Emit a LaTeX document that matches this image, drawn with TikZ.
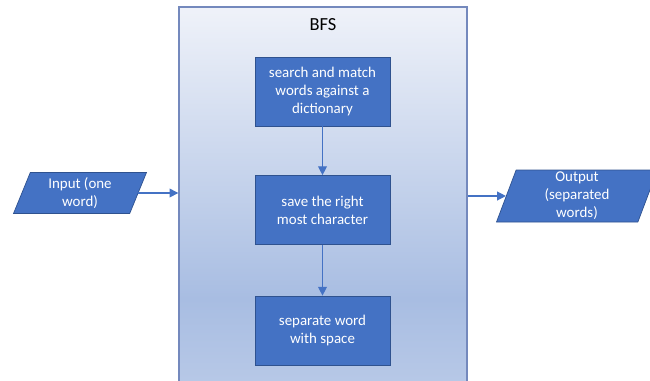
\documentclass[tikz,border=0pt]{standalone}
\usepackage{fontspec}
\setmainfont{Carlito}
\usetikzlibrary{shapes.geometric,arrows.meta}
\definecolor{boxblue}{HTML}{4472C4}
\definecolor{boxline}{HTML}{2F528F}
\definecolor{frameline}{HTML}{7489BD}
\definecolor{shadetop}{HTML}{EFF2F9}
\definecolor{shademid}{HTML}{A8BDE2}
\definecolor{shadebot}{HTML}{DCE4F3}
\begin{document}
\begin{tikzpicture}[x=0.02cm,y=-0.02cm,
    stepbox/.style={draw=boxline,fill=boxblue,text=white,align=center,
        minimum width=2.7cm,minimum height=1.38cm,inner sep=2pt,
        font=\fontsize{8.5}{10.2}\selectfont},
    iobox/.style={trapezium,trapezium left angle=64,trapezium right angle=116,
        trapezium stretches body,draw=boxline,fill=boxblue,text=white,align=center,
        inner sep=1pt,font=\fontsize{8.5}{10.2}\selectfont},
    link/.style={draw=boxblue,line width=0.7pt,-{Triangle[width=5pt,length=5pt]}}]
    \useasboundingbox (0,0) rectangle (650,380);

    %%%%%%%%%% Nodes %%%%%%%%%%
    \node (bfs) at (323,298.5) [draw=frameline,line width=0.8pt,minimum width=5.76cm,minimum height=11.66cm,
        top color=shadetop,bottom color=shadebot,middle color=shademid] {};
    \node (title) at (323,25) [font=\fontsize{10.5}{12}\selectfont] {BFS};
    \node (search) at (322.5,91.5) [stepbox] {search and match\\words against a\\dictionary};
    \node (save) at (322.5,210) [stepbox] {save the right\\most character};
    \node (split) at (322.5,330.5) [stepbox] {separate word\\with space};
    \node (inp) at (80,193) [iobox,minimum width=2.66cm,minimum height=0.82cm] {Input (one\\word)};
    \node (out) at (577,196) [iobox,trapezium left angle=69,trapezium right angle=111,
        minimum width=3.22cm,minimum height=1.04cm] {Output\\(separated\\words)};

    %%%%%%%%% Arrows %%%%%%%%%
    \draw[link] (search) -- (save);
    \draw[link] (save) -- (split);
    \draw[link] (inp.east) -- (inp.east -| bfs.west);
    \draw[link] (out.west -| bfs.east) -- (out.west);
\end{tikzpicture}
\end{document}
